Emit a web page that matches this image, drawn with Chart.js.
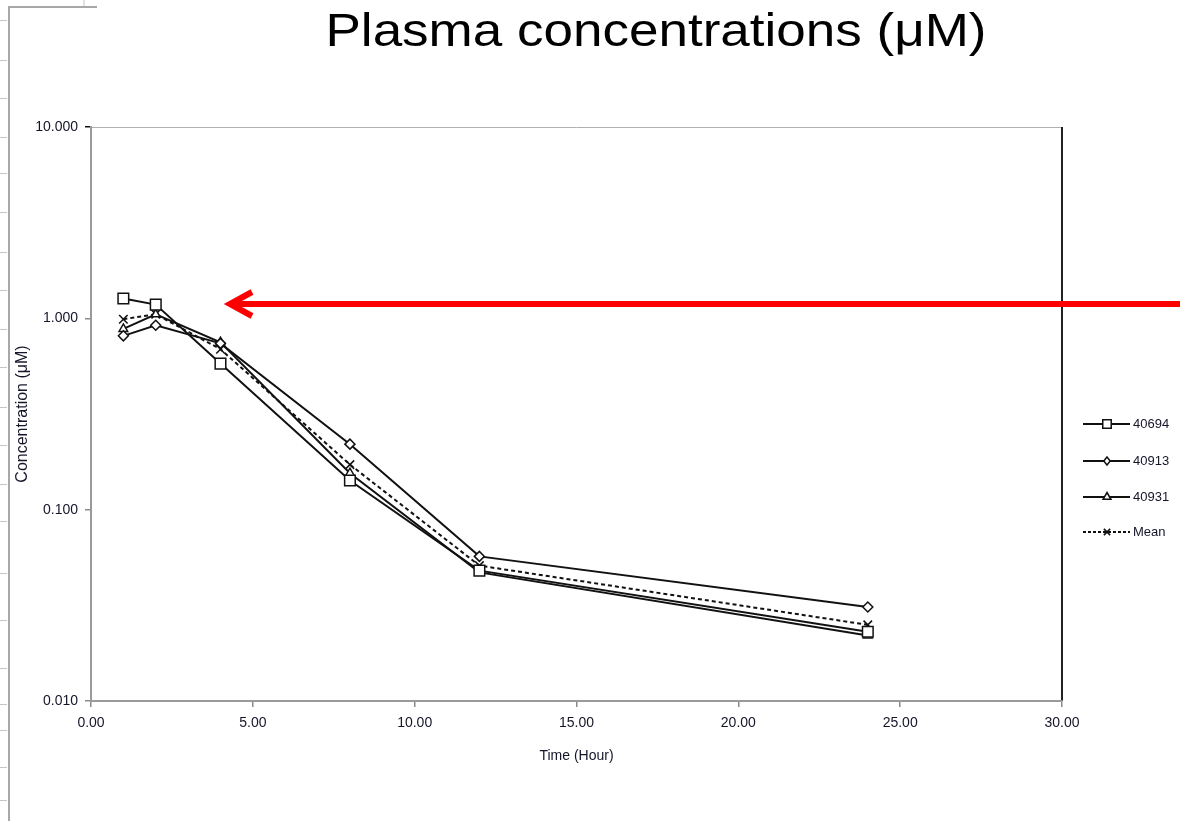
<!DOCTYPE html>
<html>
<head>
<meta charset="utf-8">
<script src="https://cdn.jsdelivr.net/npm/chart.js@4.4.1/dist/chart.umd.min.js"></script>
<style>
  html, body { margin: 0; padding: 0; background: #fff; }
  #wrap { position: relative; width: 1180px; height: 821px; }
  canvas { display: block; }
</style>
</head>
<body>
<div id="wrap"><canvas id="c" width="1180" height="821"></canvas></div>
<script>
// ---- data ----
const titleText = 'Plasma concentrations (μM)';
const xTitle = 'Time (Hour)';
const yTitle = 'Concentration (μM)';
const times = [1, 2, 4, 8, 12, 24];
const s40694 = [1.27, 1.18, 0.58, 0.142, 0.048, 0.023];
const s40913 = [0.81, 0.92, 0.74, 0.22, 0.057, 0.031];
const s40931 = [0.88, 1.05, 0.75, 0.155, 0.047, 0.022];
const sMean  = [0.99, 1.05, 0.69, 0.172, 0.051, 0.025];
const seriesNames = ['40694', '40913', '40931', 'Mean'];
const yTickValues = [0.01, 0.1, 1, 10];
const xMin = 0, xMax = 30, xStep = 5;

const FONT = "'Liberation Sans', Arial, sans-serif";
const TXT = '#15152a';

function pts(vals) { return times.map((t, i) => ({ x: t, y: vals[i] })); }

function ds(label, vals, style, radius, dash) {
  return {
    label: label,
    data: pts(vals),
    borderColor: '#111',
    borderWidth: 2,
    borderDash: dash || [],
    pointStyle: style,
    pointRadius: radius,
    pointBackgroundColor: '#fff',
    pointBorderColor: '#111',
    pointBorderWidth: 1.5,
    fill: false,
    tension: 0
  };
}

const datasets = [
  ds(seriesNames[0], s40694, 'rect', 7.5),
  ds(seriesNames[1], s40913, 'rectRot', 5),
  ds(seriesNames[2], s40931, 'triangle', 5),
  ds(seriesNames[3], sMean, 'crossRot', 6, [4, 3])
];

function drawMarker(ctx, style, x, y, r) {
  ctx.beginPath();
  if (style === 'rect') {
    const s = r * Math.SQRT1_2;
    ctx.rect(x - s, y - s, 2 * s, 2 * s);
    ctx.fill(); ctx.stroke();
  } else if (style === 'rectRot') {
    ctx.moveTo(x, y - r); ctx.lineTo(x + r * 0.8, y); ctx.lineTo(x, y + r); ctx.lineTo(x - r * 0.8, y); ctx.closePath();
    ctx.fill(); ctx.stroke();
  } else if (style === 'triangle') {
    ctx.moveTo(x, y - r); ctx.lineTo(x + r * 0.87, y + r * 0.5); ctx.lineTo(x - r * 0.87, y + r * 0.5); ctx.closePath();
    ctx.fill(); ctx.stroke();
  } else if (style === 'crossRot') {
    const s = r * 0.7;
    ctx.moveTo(x - s, y - s); ctx.lineTo(x + s, y + s);
    ctx.moveTo(x + s, y - s); ctx.lineTo(x - s, y + s);
    ctx.stroke();
  }
}

const decorPlugin = {
  id: 'decor',
  beforeDraw(chart) {
    const ctx = chart.ctx;
    const a = chart.chartArea;
    ctx.save();
    // left "ruler" frame of the screenshot
    ctx.strokeStyle = '#a8a8a8';
    ctx.lineWidth = 2;
    ctx.beginPath();
    ctx.moveTo(9, 821); ctx.lineTo(9, 7); ctx.lineTo(97, 7);
    ctx.stroke();
    ctx.strokeStyle = '#e2e2e2';
    ctx.beginPath(); ctx.moveTo(84, 0); ctx.lineTo(84, 6); ctx.stroke();
    ctx.strokeStyle = '#c4c4c4';
    ctx.lineWidth = 1;
    const rulerTicks = [20, 60, 98, 137, 173, 212, 252, 290, 329, 367, 407, 445, 484, 521, 573, 620, 668, 704, 730, 767, 800];
    rulerTicks.forEach(y => { ctx.beginPath(); ctx.moveTo(0, y + 0.5); ctx.lineTo(7, y + 0.5); ctx.stroke(); });
    // plot frame: top and right
    ctx.strokeStyle = '#b0b0b0';
    ctx.lineWidth = 1;
    ctx.beginPath(); ctx.moveTo(a.left, a.top + 0.5); ctx.lineTo(a.right, a.top + 0.5); ctx.stroke();
    ctx.strokeStyle = '#222';
    ctx.lineWidth = 2;
    ctx.beginPath(); ctx.moveTo(a.right, a.top); ctx.lineTo(a.right, a.bottom); ctx.stroke();
    ctx.restore();
  },
  afterDraw(chart) {
    const ctx = chart.ctx;
    const a = chart.chartArea;
    ctx.save();
    // title (stretched to reference width)
    ctx.font = '47px ' + FONT;
    ctx.fillStyle = '#000';
    ctx.textBaseline = 'alphabetic';
    ctx.textAlign = 'center';
    const w = ctx.measureText(titleText).width;
    const sx = 661 / w;
    ctx.translate(656, 46);
    ctx.scale(sx, 1);
    ctx.fillText(titleText, 0, 0);
    ctx.setTransform(1, 0, 0, 1, 0, 0);

    // legend
    const lx0 = a.right + 21, lx1 = a.right + 68, mx = a.right + 45;
    const ly = [424, 461, 497, 532];
    const legR = [6, 4, 4.5, 4.5];
    chart.data.datasets.forEach((d, i) => {
      const y = ly[i];
      ctx.strokeStyle = '#111';
      ctx.lineWidth = 1.8;
      ctx.setLineDash(d.borderDash && d.borderDash.length ? [3, 2] : []);
      ctx.beginPath(); ctx.moveTo(lx0, y); ctx.lineTo(lx1, y); ctx.stroke();
      ctx.setLineDash([]);
      ctx.fillStyle = '#fff';
      ctx.lineWidth = 1.5;
      drawMarker(ctx, d.pointStyle, mx, y, legR[i]);
      ctx.fillStyle = TXT;
      ctx.font = '13px ' + FONT;
      ctx.textAlign = 'left';
      ctx.textBaseline = 'middle';
      ctx.fillText(d.label, lx1 + 3, y);
    });

    // red arrow annotation
    const ay = 304;
    ctx.strokeStyle = '#ff0000';
    ctx.lineWidth = 6;
    ctx.lineCap = 'butt';
    ctx.beginPath(); ctx.moveTo(1180, ay); ctx.lineTo(232, ay); ctx.stroke();
    ctx.lineJoin = 'miter';
    ctx.beginPath();
    ctx.moveTo(252, ay - 12); ctx.lineTo(230, ay); ctx.lineTo(252, ay + 12);
    ctx.stroke();
    ctx.restore();
  }
};

new Chart(document.getElementById('c'), {
  type: 'line',
  data: { datasets: datasets },
  plugins: [decorPlugin],
  options: {
    responsive: false,
    animation: false,
    devicePixelRatio: 1,
    layout: { padding: { left: 0, right: 118, top: 127, bottom: 0 } },
    plugins: {
      legend: { display: false },
      title: { display: false },
      tooltip: { enabled: false }
    },
    scales: {
      x: {
        type: 'linear',
        min: xMin, max: xMax,
        ticks: {
          stepSize: xStep,
          callback: v => Number(v).toFixed(2),
          font: { family: FONT, size: 14 },
          color: TXT,
          padding: 8,
          maxRotation: 0
        },
        grid: { drawOnChartArea: false, tickLength: 6, color: '#8a8a8a', lineWidth: 1.5 },
        border: { color: '#9a9a9a', width: 2 },
        title: {
          display: true, text: xTitle,
          font: { family: FONT, size: 14 }, color: TXT,
          padding: { top: 4, bottom: 56 }
        },
        afterFit(s) { s.height = 120; }
      },
      y: {
        type: 'logarithmic',
        min: yTickValues[0], max: yTickValues[yTickValues.length - 1],
        afterBuildTicks(s) { s.ticks = yTickValues.map(v => ({ value: v })); },
        ticks: {
          callback: v => Number(v).toFixed(3),
          font: { family: FONT, size: 14 },
          color: TXT,
          padding: 7
        },
        grid: {
          drawOnChartArea: false, tickLength: 6, lineWidth: 1.5,
          color: c => (c.tick && c.tick.value === 10 ? '#111' : '#8a8a8a')
        },
        border: { color: '#9a9a9a', width: 2 },
        title: {
          display: true, text: yTitle,
          font: { family: FONT, size: 16 }, color: TXT,
          padding: { top: 13, bottom: 0 }
        },
        afterFit(s) { s.width = 91; }
      }
    }
  }
});
</script>
</body>
</html>
